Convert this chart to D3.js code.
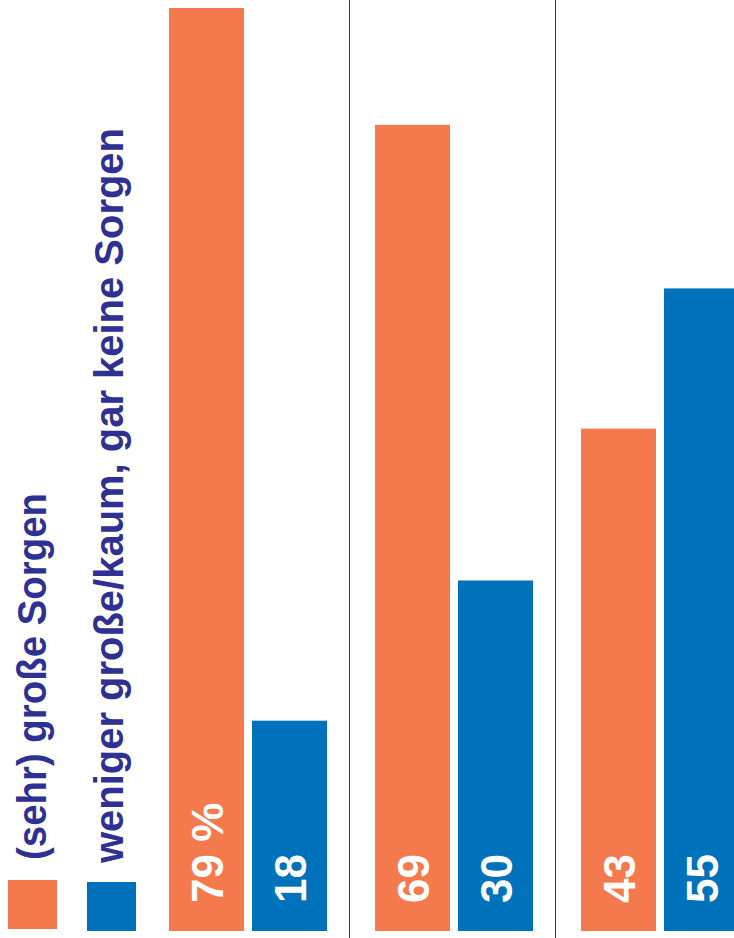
<!DOCTYPE html>
<html>
<head>
<meta charset="utf-8">
<script src="https://cdn.jsdelivr.net/npm/d3@7"></script>
<style>
  body { margin: 0; background: #fff; }
  svg { display: block; }
</style>
</head>
<body>
<svg id="board" width="734" height="938"></svg>
<script>
  // data
  var groups = ["g1", "g2", "g3"]
  var series = ["(sehr) große Sorgen", "weniger große/kaum, gar keine Sorgen"]
  var grosse = [79, 69, 43]
  var weniger = [18, 30, 55]
  var colors = ["#f47a4d", "#0071bb"]
  var navy = "#2e3192"

  var svg = d3.select("#board")
  var base = 931

  var y = d3.scaleLinear().domain([0, 79]).range([base, 8])
  var x0 = d3.scaleBand().domain(groups).range([145, 763])
    .paddingInner(48 / 206).paddingOuter(24 / 206)
  var x1 = d3.scaleBand().domain(series).range([0, x0.bandwidth()])
    .paddingInner(8 / 83).paddingOuter(0)
  var color = d3.scaleOrdinal().domain(series).range(colors)

  // separators between groups
  svg.selectAll("line.sep").data(groups.slice(1)).enter().append("line")
    .attr("class", "sep")
    .attr("x1", function(d){ return x0(d) - 25.5 })
    .attr("x2", function(d){ return x0(d) - 25.5 })
    .attr("y1", 0).attr("y2", 938)
    .attr("stroke", navy).attr("stroke-width", 1)

  var rows = groups.map(function(g, i){
    return [
      {g: g, s: series[0], v: grosse[i], first: i === 0},
      {g: g, s: series[1], v: weniger[i], first: false}
    ]
  })

  var grp = svg.selectAll("g.grp").data(rows).enter().append("g")
    .attr("class", "grp")
    .attr("transform", function(d){ return "translate(" + x0(d[0].g) + ",0)" })

  grp.selectAll("rect").data(function(d){ return d }).enter().append("rect")
    .attr("x", function(d){ return x1(d.s) })
    .attr("y", function(d){ return y(d.v) })
    .attr("width", x1.bandwidth())
    .attr("height", function(d){ return base - y(d.v) })
    .attr("fill", function(d){ return color(d.s) })

  grp.selectAll("text").data(function(d){ return d }).enter().append("text")
    .attr("transform", function(d){
      var cx = x1(d.s) + x1.bandwidth() / 2 + 16
      return "translate(" + cx + ",903) rotate(-90)"
    })
    .attr("fill", "#fff")
    .style("font-family", "'Liberation Sans Narrow', 'Liberation Sans', sans-serif")
    .style("font-weight", "bold")
    .style("font-size", "44px")
    .text(function(d){ return d.first ? d.v + " %" : d.v })

  // legend
  var legX = [8, 87], legY = [880, 882], textX = [46, 123], textStart = [860, 863], textLen = [367, 735]
  series.forEach(function(s, i){
    svg.append("rect")
      .attr("x", legX[i]).attr("y", legY[i])
      .attr("width", 49).attr("height", 49)
      .attr("fill", color(s))
    svg.append("text")
      .attr("transform", "translate(" + textX[i] + "," + textStart[i] + ") rotate(-90)")
      .attr("fill", navy)
      .attr("textLength", textLen[i])
      .attr("lengthAdjust", "spacingAndGlyphs")
      .style("font-family", "'Liberation Sans', Arial, sans-serif")
      .style("font-weight", "bold")
      .style("font-size", "41px")
      .text(s)
  })
</script>
</body>
</html>
